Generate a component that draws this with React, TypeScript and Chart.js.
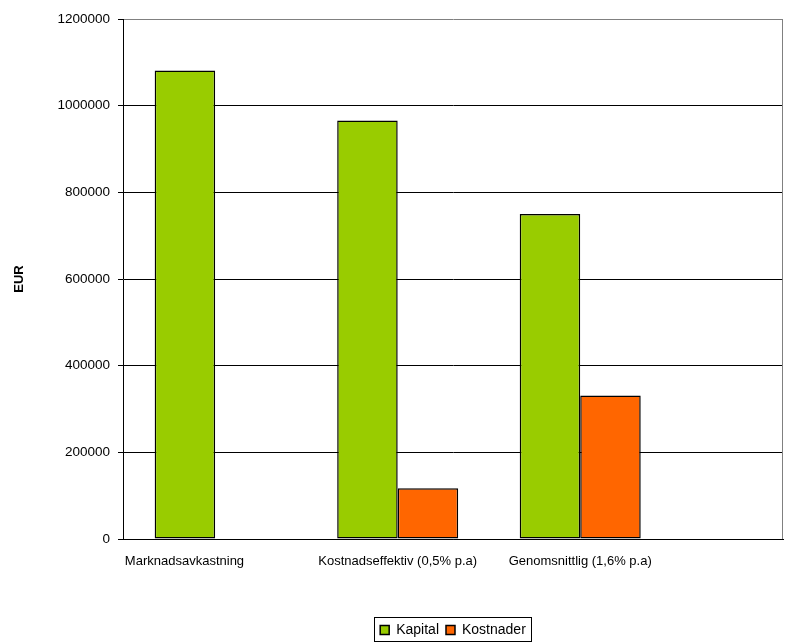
import React, { useEffect, useRef } from "react";
import { Chart, registerables } from "chart.js";

Chart.register(...registerables);

const categories = ["Marknadsavkastning", "Kostnadseffektiv (0,5% p.a)", "Genomsnittlig (1,6% p.a)"];
const kapital = [1081000, 966000, 750000];
const kostnader = [0, 117000, 331000];
const seriesNames = ["Kapital", "Kostnader"];
const yTicks = [0, 200000, 400000, 600000, 800000, 1000000, 1200000];
const yTitle = "EUR";

const FONT = "'Liberation Sans', Arial, sans-serif";

export default function App() {
  const ref = useRef<HTMLCanvasElement>(null);

  useEffect(() => {
    const canvas = ref.current;
    if (!canvas) return;

    const plotBorder = {
      id: "plotBorder",
      beforeDatasetsDraw(chart: any) {
        const { ctx, chartArea: a } = chart;
        ctx.save();
        ctx.strokeStyle = "#808080";
        ctx.lineWidth = 1;
        ctx.beginPath();
        ctx.moveTo(Math.round(a.right) - 0.5, Math.round(a.top) + 0.5);
        ctx.lineTo(Math.round(a.right) - 0.5, Math.round(a.bottom));
        ctx.stroke();
        ctx.restore();
      },
    };

    const legendBox = {
      id: "legendBox",
      afterDraw(chart: any) {
        const boxes = chart.legend && chart.legend.legendHitBoxes;
        if (!boxes || !boxes.length) return;
        const { ctx } = chart;
        const l = Math.min(...boxes.map((b: any) => b.left)) - 6;
        const r = Math.max(...boxes.map((b: any) => b.left + b.width)) + 5;
        const cy = boxes[0].top + boxes[0].height / 2;
        ctx.save();
        ctx.strokeStyle = "#000";
        ctx.lineWidth = 1;
        ctx.strokeRect(Math.round(l) + 0.5, Math.round(cy - 13) + 0.5, Math.round(r - l), 24);
        ctx.restore();
      },
    };

    const chart = new Chart(canvas, {
      type: "bar",
      data: {
        datasets: [
          {
            label: seriesNames[0],
            data: kapital.map((v, i) => ({ x: i, y: v })),
            backgroundColor: "#99CC00",
            borderColor: "#000000",
            borderWidth: 1.5,
            borderSkipped: false,
          },
          {
            label: seriesNames[1],
            data: kostnader.map((v, i) => ({ x: i, y: v })),
            backgroundColor: "#FF6600",
            borderColor: "#000000",
            borderWidth: 1.5,
            borderSkipped: false,
          },
        ],
      },
      options: {
        animation: false,
        responsive: false,
        maintainAspectRatio: false,
        categoryPercentage: 0.663,
        barPercentage: 1,
        layout: { padding: { top: 19, right: 7, left: 0, bottom: -3 } },
        plugins: {
          legend: {
            position: "bottom",
            fullSize: false,
            labels: {
              boxWidth: 9,
              boxHeight: 9,
              padding: 7,
              color: "#000",
              font: { family: FONT, size: 14 },
            },
          },
          tooltip: { enabled: false },
        },
        scales: {
          x: {
            type: "linear",
            offset: false,
            min: -0.505,
            max: 3.111,
            grid: { display: false, drawTicks: false },
            border: { display: true, color: "#000", width: 1 },
            afterBuildTicks: (s: any) => {
              s.ticks = categories.map((_, i) => ({ value: i }));
            },
            ticks: {
              autoSkip: false,
              maxRotation: 0,
              minRotation: 0,
              padding: 15,
              color: "#000",
              font: { family: FONT, size: 13 },
              callback: (v: any) => {
                const i = Math.round(Number(v));
                return i === 0 ? categories[0] + " ".repeat(17) : categories[i];
              },
            },
            afterFit: (s: any) => {
              s.height = 77;
            },
          },
          y: {
            min: 0,
            max: 1200000,
            afterBuildTicks: (s: any) => {
              s.ticks = yTicks.map((v) => ({ value: v }));
            },
            ticks: {
              color: "#000",
              padding: 8,
              font: { family: FONT, size: 13.5 },
              callback: (v: any) => String(v),
            },
            grid: {
              color: (c: any) => (c.tick && c.tick.value === 1200000 ? "#808080" : "#000000"),
              tickColor: "#000000",
              tickLength: 5,
              drawTicks: true,
            },
            border: { color: "#000", width: 1 },
            title: {
              display: true,
              text: yTitle,
              color: "#000",
              font: { family: FONT, size: 13, weight: "bold" },
              padding: { top: 12, bottom: 0 },
            },
            afterFit: (s: any) => {
              s.width = 123;
            },
          },
        },
      },
      plugins: [plotBorder, legendBox],
    } as any);

    return () => chart.destroy();
  }, []);

  return (
    <div style={{ position: "absolute", left: 0, top: 0, width: 790, height: 644, background: "#fff" }}>
      <canvas ref={ref} width={790} height={644} style={{ display: "block", width: 790, height: 644 }} />
    </div>
  );
}
